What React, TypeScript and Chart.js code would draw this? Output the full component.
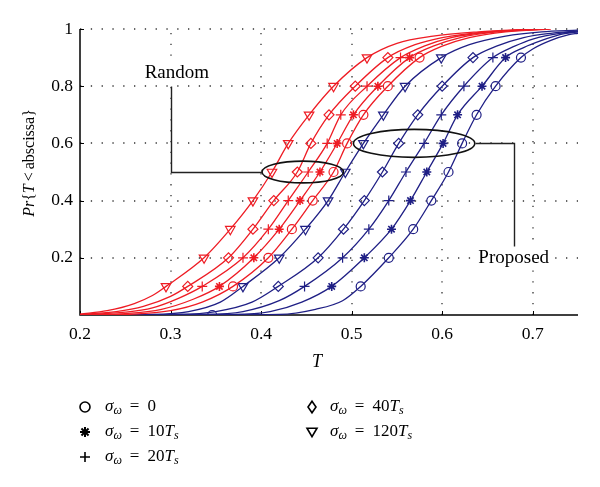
import React, { useEffect, useRef } from "react";
import { Chart, registerables } from "chart.js";

Chart.register(...registerables);

// ---------- data ----------
const markerLevels = [0.1, 0.2, 0.3, 0.4, 0.5, 0.6, 0.7, 0.8, 0.9];

// Random scheme (red) — T at each marker level
const randomCircleT = [0.369, 0.408, 0.434, 0.457, 0.48, 0.495, 0.513, 0.54, 0.575];
const randomStarT = [0.354, 0.392, 0.42, 0.443, 0.465, 0.484, 0.502, 0.529, 0.564];
const randomPlusT = [0.335, 0.38, 0.408, 0.43, 0.452, 0.473, 0.488, 0.517, 0.554];
const randomDiamondT = [0.319, 0.364, 0.391, 0.414, 0.44, 0.455, 0.475, 0.504, 0.54];
const randomTriangleT = [0.295, 0.337, 0.366, 0.391, 0.412, 0.43, 0.453, 0.48, 0.517];

// Proposed scheme (blue)
const proposedCircleT = [0.51, 0.541, 0.568, 0.588, 0.607, 0.622, 0.638, 0.659, 0.687];
const proposedStarT = [0.478, 0.514, 0.544, 0.565, 0.583, 0.601, 0.617, 0.644, 0.67];
const proposedPlusT = [0.448, 0.49, 0.519, 0.541, 0.56, 0.58, 0.599, 0.624, 0.656];
const proposedDiamondT = [0.419, 0.463, 0.491, 0.514, 0.534, 0.552, 0.573, 0.6, 0.634];
const proposedTriangleT = [0.38, 0.42, 0.449, 0.474, 0.493, 0.513, 0.535, 0.559, 0.599];

// Lower / upper tails [T, P]
const randomCircleLow = [[0.2, 0], [0.26, 0.003], [0.3, 0.015], [0.335, 0.045]];
const randomCircleHigh = [[0.6, 0.94], [0.63, 0.97], [0.67, 0.99], [0.72, 1]];
const randomStarLow = [[0.2, 0], [0.25, 0.005], [0.29, 0.02], [0.325, 0.055]];
const randomStarHigh = [[0.59, 0.94], [0.62, 0.97], [0.66, 0.99], [0.715, 1]];
const randomPlusLow = [[0.2, 0.001], [0.25, 0.01], [0.28, 0.025], [0.31, 0.06]];
const randomPlusHigh = [[0.58, 0.94], [0.61, 0.97], [0.655, 0.99], [0.71, 1]];
const randomDiamondLow = [[0.2, 0.002], [0.24, 0.012], [0.27, 0.03], [0.3, 0.065]];
const randomDiamondHigh = [[0.57, 0.945], [0.6, 0.97], [0.65, 0.99], [0.71, 1]];
const randomTriangleLow = [[0.2, 0.003], [0.23, 0.015], [0.26, 0.04], [0.28, 0.068]];
const randomTriangleHigh = [[0.55, 0.95], [0.59, 0.975], [0.64, 0.99], [0.7, 1]];

const proposedCircleLow = [[0.346, 0], [0.42, 0.002], [0.46, 0.02], [0.49, 0.05]];
const proposedCircleHigh = [[0.7, 0.93], [0.72, 0.96], [0.74, 0.98], [0.75, 0.985]];
const proposedStarLow = [[0.2, 0], [0.37, 0.002], [0.41, 0.012], [0.445, 0.045]];
const proposedStarHigh = [[0.69, 0.935], [0.71, 0.96], [0.73, 0.98], [0.75, 0.99]];
const proposedPlusLow = [[0.2, 0], [0.34, 0.002], [0.38, 0.012], [0.42, 0.05]];
const proposedPlusHigh = [[0.68, 0.94], [0.7, 0.965], [0.73, 0.985], [0.75, 0.99]];
const proposedDiamondLow = [[0.2, 0], [0.31, 0.002], [0.35, 0.012], [0.39, 0.045]];
const proposedDiamondHigh = [[0.66, 0.94], [0.69, 0.97], [0.72, 0.985], [0.75, 0.993]];
const proposedTriangleLow = [[0.2, 0], [0.28, 0.002], [0.32, 0.012], [0.355, 0.045]];
const proposedTriangleHigh = [[0.63, 0.945], [0.67, 0.975], [0.71, 0.99], [0.75, 0.996]];

// extra start marker (first sample of the proposed sigma=0 curve)
const proposedCircleStartMarkers = [0.346];

const xTicks = [0.2, 0.3, 0.4, 0.5, 0.6, 0.7];
const yTicks = [0.2, 0.4, 0.6, 0.8, 1];

const legendStyles = ["circle", "star", "cross", "rectRot", "triangleDown"];
const legendValues = ["0", "10", "20", "40", "120"];

// annotations in data coordinates
const randomEllipse = { cx: 0.446, cy: 0.5, rx: 0.045, ry: 0.038 };
const randomLeader = [[0.401, 0.5], [0.3, 0.5], [0.3, 0.8]];
const randomLabel = { x: 0.307, y: 0.845, text: "Random" };
const proposedEllipse = { cx: 0.569, cy: 0.6, rx: 0.067, ry: 0.049 };
const proposedLeader = [[0.636, 0.6], [0.679, 0.6], [0.679, 0.242]];
const proposedLabel = { x: 0.679, y: 0.2, text: "Proposed" };

const RED = "#ee1c24";
const BLUE = "#1f1f85";
const SERIF = '"Liberation Serif", "DejaVu Serif", serif';

// ---------- helpers ----------
function buildSeries(low: number[][], markersT: number[], high: number[][], startMarkers: number[] = []) {
  const data: { x: number; y: number }[] = [];
  const radii: number[] = [];
  low.forEach(([t, p]) => {
    data.push({ x: t, y: p });
    radii.push(startMarkers.includes(t) && p === 0 ? 1 : 0);
  });
  markersT.forEach((t, i) => {
    data.push({ x: t, y: markerLevels[i] });
    radii.push(1);
  });
  high.forEach(([t, p]) => {
    data.push({ x: t, y: p });
    radii.push(0);
  });
  return { data, radii };
}

function makeDataset(low: number[][], markersT: number[], high: number[][], color: string, style: string, size: number, startMarkers: number[] = []) {
  const { data, radii } = buildSeries(low, markersT, high, startMarkers);
  const isTri = style === "triangleDown";
  return {
    data,
    showLine: true,
    borderColor: color,
    borderWidth: 1.3,
    backgroundColor: "rgba(0,0,0,0)",
    pointBorderColor: color,
    pointBackgroundColor: "rgba(0,0,0,0)",
    pointBorderWidth: style === "star" ? 1.6 : 1.2,
    pointStyle: isTri ? "triangle" : style,
    rotation: isTri ? 180 : 0,
    pointRadius: radii.map((r) => r * size),
    pointHoverRadius: 0,
    cubicInterpolationMode: "monotone" as const,
  };
}

function drawMarker(ctx: CanvasRenderingContext2D, style: string, x: number, y: number, r: number) {
  ctx.beginPath();
  if (style === "circle") {
    ctx.arc(x, y, r, 0, Math.PI * 2);
  } else if (style === "star") {
    for (let k = 0; k < 4; k++) {
      const a = (k * Math.PI) / 4;
      ctx.moveTo(x - Math.cos(a) * r, y - Math.sin(a) * r);
      ctx.lineTo(x + Math.cos(a) * r, y + Math.sin(a) * r);
    }
  } else if (style === "cross") {
    ctx.moveTo(x - r, y);
    ctx.lineTo(x + r, y);
    ctx.moveTo(x, y - r);
    ctx.lineTo(x, y + r);
  } else if (style === "rectRot") {
    ctx.moveTo(x, y - r * 1.15);
    ctx.lineTo(x + r * 0.8, y);
    ctx.lineTo(x, y + r * 1.15);
    ctx.lineTo(x - r * 0.8, y);
    ctx.closePath();
  } else if (style === "triangleDown") {
    ctx.moveTo(x - r, y - r * 0.75);
    ctx.lineTo(x + r, y - r * 0.75);
    ctx.lineTo(x, y + r * 0.95);
    ctx.closePath();
  }
  ctx.stroke();
}

type Seg = { t: string; f: string; dy?: number; gap?: number };
function segWidth(ctx: CanvasRenderingContext2D, segs: Seg[]) {
  let w = 0;
  for (const s of segs) {
    ctx.font = s.f;
    w += ctx.measureText(s.t).width + (s.gap || 0);
  }
  return w;
}
function drawSegs(ctx: CanvasRenderingContext2D, segs: Seg[], x: number, y: number) {
  let cx = x;
  for (const s of segs) {
    ctx.font = s.f;
    ctx.fillText(s.t, cx, y + (s.dy || 0));
    cx += ctx.measureText(s.t).width + (s.gap || 0);
  }
}

const decorPlugin = {
  id: "decor",
  beforeDatasetsDraw(chart: any) {
    const { ctx, chartArea, scales } = chart;
    const { left, right, top, bottom } = chartArea;
    const xs = scales.x;
    const ys = scales.y;
    ctx.save();
    // dotted grid
    ctx.strokeStyle = "#333";
    ctx.lineWidth = 1.3;
    ctx.setLineDash([1.3, 9.5]);
    xTicks.slice(1).forEach((v) => {
      const px = Math.round(xs.getPixelForValue(v));
      ctx.beginPath();
      ctx.moveTo(px, bottom);
      ctx.lineTo(px, top);
      ctx.stroke();
    });
    yTicks.forEach((v) => {
      const py = Math.round(ys.getPixelForValue(v));
      ctx.beginPath();
      ctx.moveTo(left, py);
      ctx.lineTo(right, py);
      ctx.stroke();
    });
    ctx.setLineDash([]);
    // axes
    ctx.strokeStyle = "#000";
    ctx.lineWidth = 1.5;
    ctx.beginPath();
    ctx.moveTo(left, top);
    ctx.lineTo(left, bottom);
    ctx.lineTo(right, bottom);
    ctx.stroke();
    // inward ticks
    ctx.lineWidth = 1;
    xTicks.forEach((v) => {
      const px = Math.round(xs.getPixelForValue(v)) + 0.5;
      ctx.beginPath();
      ctx.moveTo(px, bottom);
      ctx.lineTo(px, bottom - 4);
      ctx.stroke();
    });
    yTicks.forEach((v) => {
      const py = Math.round(ys.getPixelForValue(v)) + 0.5;
      ctx.beginPath();
      ctx.moveTo(left, py);
      ctx.lineTo(left + 4, py);
      ctx.stroke();
    });
    ctx.restore();
  },
  afterDatasetsDraw(chart: any) {
    const { ctx, scales } = chart;
    const xs = scales.x;
    const ys = scales.y;
    const X = (v: number) => xs.getPixelForValue(v);
    const Y = (v: number) => ys.getPixelForValue(v);
    ctx.save();
    // ellipses
    ctx.strokeStyle = "#111";
    ctx.lineWidth = 1.6;
    [randomEllipse, proposedEllipse].forEach((e) => {
      const cx = X(e.cx);
      const cy = Y(e.cy);
      const rx = Math.abs(X(e.cx + e.rx) - cx);
      const ry = Math.abs(Y(e.cy + e.ry) - cy);
      ctx.beginPath();
      ctx.ellipse(cx, cy, rx, ry, 0, 0, Math.PI * 2);
      ctx.stroke();
    });
    // leaders
    ctx.strokeStyle = "#222";
    ctx.lineWidth = 1.4;
    [randomLeader, proposedLeader].forEach((pts) => {
      ctx.beginPath();
      pts.forEach(([t, p], i) => {
        const px = Math.round(X(t)) + 0.5;
        const py = Math.round(Y(p)) + 0.5;
        if (i === 0) ctx.moveTo(px, py);
        else ctx.lineTo(px, py);
      });
      ctx.stroke();
    });
    // labels
    ctx.fillStyle = "#000";
    ctx.font = `19px ${SERIF}`;
    ctx.textAlign = "center";
    ctx.textBaseline = "middle";
    [randomLabel, proposedLabel].forEach((l) => {
      const px = X(l.x);
      const py = Y(l.y);
      ctx.fillStyle = "#fff";
      const w = ctx.measureText(l.text).width;
      ctx.fillRect(px - w / 2 - 2, py - 9, w + 4, 18);
      ctx.fillStyle = "#000";
      ctx.fillText(l.text, px, py);
    });
    ctx.restore();
  },
  afterDraw(chart: any) {
    const { ctx, chartArea } = chart;
    ctx.save();
    ctx.fillStyle = "#000";
    ctx.textAlign = "left";
    ctx.textBaseline = "middle";
    // x axis title
    const xt: Seg[] = [{ t: "T", f: `italic 18px ${SERIF}` }];
    const xw = segWidth(ctx, xt);
    drawSegs(ctx, xt, 317 - xw / 2, chartArea.bottom + 47);
    // y axis title
    const yt: Seg[] = [
      { t: "Pr", f: `italic 16px ${SERIF}` },
      { t: "{", f: `16px ${SERIF}` },
      { t: "T", f: `italic 16px ${SERIF}`, gap: 3 },
      { t: "<", f: `16px ${SERIF}`, gap: 3 },
      { t: "abscissa", f: `16px ${SERIF}` },
      { t: "}", f: `16px ${SERIF}` },
    ];
    const yw = segWidth(ctx, yt);
    ctx.translate(30, 163);
    ctx.rotate(-Math.PI / 2);
    drawSegs(ctx, yt, -yw / 2, 0);
    ctx.setTransform(1, 0, 0, 1, 0, 0);
    // legend
    const colMarker = [85, 312];
    const colText = [105, 330];
    const rowY = [407, 432, 457];
    legendValues.forEach((val, i) => {
      const col = i < 3 ? 0 : 1;
      const row = i < 3 ? i : i - 3;
      const y = rowY[row];
      ctx.strokeStyle = "#000";
      ctx.lineWidth = legendStyles[i] === "star" ? 2 : 1.6;
      drawMarker(ctx, legendStyles[i], colMarker[col], y, 5);
      const segs: Seg[] = [
        { t: "σ", f: `italic 17px ${SERIF}` },
        { t: "ω", f: `italic 12px ${SERIF}`, dy: 4, gap: 8 },
        { t: "=", f: `17px ${SERIF}`, gap: 8 },
        { t: val, f: `17px ${SERIF}` },
      ];
      if (val !== "0") {
        segs.push({ t: "T", f: `italic 17px ${SERIF}` });
        segs.push({ t: "s", f: `italic 12px ${SERIF}`, dy: 4 });
      }
      drawSegs(ctx, segs, colText[col], y);
    });
    ctx.restore();
  },
};

export default function App() {
  const ref = useRef<HTMLCanvasElement>(null);
  useEffect(() => {
    if (!ref.current) return;
    const datasets = [
      makeDataset(randomCircleLow, randomCircleT, randomCircleHigh, RED, "circle", 4.5),
      makeDataset(randomStarLow, randomStarT, randomStarHigh, RED, "star", 4.5),
      makeDataset(randomPlusLow, randomPlusT, randomPlusHigh, RED, "cross", 5),
      makeDataset(randomDiamondLow, randomDiamondT, randomDiamondHigh, RED, "rectRot", 5),
      makeDataset(randomTriangleLow, randomTriangleT, randomTriangleHigh, RED, "triangleDown", 5.5),
      makeDataset(proposedCircleLow, proposedCircleT, proposedCircleHigh, BLUE, "circle", 4.5, proposedCircleStartMarkers),
      makeDataset(proposedStarLow, proposedStarT, proposedStarHigh, BLUE, "star", 4.5),
      makeDataset(proposedPlusLow, proposedPlusT, proposedPlusHigh, BLUE, "cross", 5),
      makeDataset(proposedDiamondLow, proposedDiamondT, proposedDiamondHigh, BLUE, "rectRot", 5),
      makeDataset(proposedTriangleLow, proposedTriangleT, proposedTriangleHigh, BLUE, "triangleDown", 5.5),
    ];
    const tickFont = { family: SERIF, size: 17.5 };
    const chart = new Chart(ref.current, {
      type: "scatter",
      data: { datasets: datasets as any },
      options: {
        responsive: false,
        animation: false,
        devicePixelRatio: 1,
        layout: { padding: { left: 0, right: 22, top: 29, bottom: 0 } },
        plugins: { legend: { display: false }, tooltip: { enabled: false } },
        scales: {
          x: {
            type: "linear",
            min: 0.2,
            max: 0.75,
            grid: { display: false, drawTicks: false },
            border: { display: false },
            ticks: {
              stepSize: 0.1,
              includeBounds: false,
              padding: 9,
              color: "#000",
              font: tickFont,
              maxRotation: 0,
              autoSkip: false,
              callback: (v: any) => (Math.round(Number(v) * 10) / 10).toString(),
            },
            afterFit: (s: any) => {
              s.height = 172;
            },
          },
          y: {
            type: "linear",
            min: 0,
            max: 1,
            grid: { display: false, drawTicks: false },
            border: { display: false },
            ticks: {
              stepSize: 0.2,
              padding: 7,
              color: "#000",
              font: tickFont,
              callback: (v: any) => (Number(v) === 0 ? "" : (Math.round(Number(v) * 10) / 10).toString()),
            },
            afterFit: (s: any) => {
              s.width = 80;
            },
          },
        },
      },
      plugins: [decorPlugin],
    });
    return () => chart.destroy();
  }, []);
  return (
    <div style={{ position: "fixed", left: 0, top: 0, width: 600, height: 487, background: "#fff" }}>
      <canvas ref={ref} width={600} height={487} style={{ display: "block", width: 600, height: 487 }} />
    </div>
  );
}
